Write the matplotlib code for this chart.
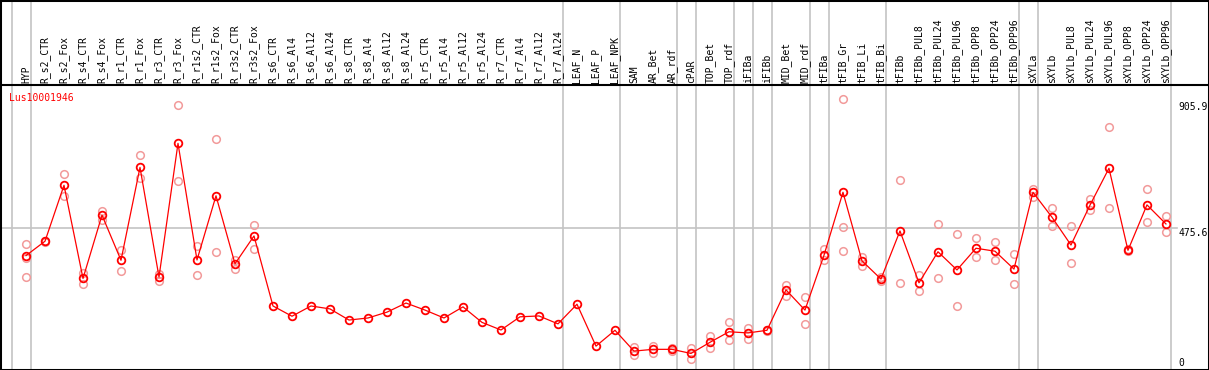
import matplotlib
matplotlib.use("Agg")
import matplotlib.pyplot as plt
from matplotlib.patches import Rectangle

# sample names (x axis, written on top)
labels = [
    "HYP", "R_s2_CTR", "R_s2_Fox", "R_s4_CTR", "R_s4_Fox", "R_r1_CTR", "R_r1_Fox",
    "R_r3_CTR", "R_r3_Fox", "R_r1s2_CTR", "R_r1s2_Fox", "R_r3s2_CTR", "R_r3s2_Fox",
    "R_s6_CTR", "R_s6_Al4", "R_s6_Al12", "R_s6_Al24", "R_s8_CTR", "R_s8_Al4",
    "R_s8_Al12", "R_s8_Al24", "R_r5_CTR", "R_r5_Al4", "R_r5_Al12", "R_r5_Al24",
    "R_r7_CTR", "R_r7_Al4", "R_r7_Al12", "R_r7_Al24", "LEAF_N", "LEAF_P", "LEAF_NPK",
    "SAM", "AR_Bet", "AR_rdf", "cPAR", "TOP_Bet", "TOP_rdf", "iFIBa", "iFIBb",
    "MID_Bet", "MID_rdf", "tFIBa", "tFIB_Gr", "tFIB_Li", "tFIB_Bi", "tFIBb",
    "tFIBb_PUL8", "tFIBb_PUL24", "tFIBb_PUL96", "tFIBb_OPP8", "tFIBb_OPP24",
    "tFIBb_OPP96", "sXYLa", "sXYLb", "sXYLb_PUL8", "sXYLb_PUL24", "sXYLb_PUL96",
    "sXYLb_OPP8", "sXYLb_OPP24", "sXYLb_OPP96",
]

# mean expression per sample
means = [
    382, 431, 622, 304, 520, 366, 683, 309, 765, 367, 586, 354, 449,
    210, 175, 210, 200, 162, 169, 189, 220, 196, 169, 207, 154,
    128, 173, 176, 149, 216, 73, 127,
    56, 62, 62, 48, 86, 122, 118, 127,
    265, 196, 383, 598, 364, 302, 466,
    289, 395, 333, 407, 397, 336,
    598, 513, 418, 554, 680, 400, 555, 490,
]

# individual replicates (empty where only the mean is shown)
reps = [
    [422, 373, 308], [429, 433], [660, 585], [324, 285], [535, 503], [401, 328],
    [724, 647], [319, 296], [896, 636], [415, 315], [779, 393], [367, 337], [485, 406],
    [], [], [], [], [], [], [], [], [], [], [], [],
    [], [], [], [], [], [], [],
    [71, 43], [73, 49], [68, 56], [68, 29], [109, 66], [155, 93], [136, 98], [129, 125],
    [282, 244], [240, 147], [404, 367], [918, 480, 398], [378, 347], [308, 296], [640, 288],
    [316, 261], [489, 304], [455, 209], [441, 376], [427, 366], [387, 284],
    [610, 583], [544, 483], [483, 357], [574, 537], [820, 544], [396, 403], [609, 496], [516, 461],
]

# groups end after these sample indices (vertical separators)
group_ends = [-1, 0, 28, 31, 34, 35, 37, 38, 39, 41, 42, 45, 52, 53, 60]

y_ticks = [0, 475.6, 905.9]
gene = "Lus10001946"

MONO = "DejaVu Sans Mono"
RED = "#ff0000"
PINK = "#f29a9a"
GRID = "#c4c4c4"

W, H = 1209, 370
fig = plt.figure(figsize=(W / 100, H / 100), dpi=100)
# data area: x 1..1207 px, y 85..369 px (from top)
ax = fig.add_axes([1 / W, 1 / H, 1206 / W, 284 / H])

x = list(range(len(labels)))
ax.set_xlim(-1.316, 62.16)
ax.set_ylim(-5.1, 964.2)

# separators run through the label area to the top of the image
for g in group_ends:
    ax.axvline(g + 0.25, ymin=0, ymax=1.31, color=GRID, lw=1.2, clip_on=False, zorder=1)

ax.axhline(475.6, xmin=0, xmax=0.975, color=GRID, lw=1.2, zorder=1)

# replicates
for i, r in enumerate(reps):
    if r:
        ax.plot([i] * len(r), r, linestyle="none", marker="o", ms=5.5, mfc="none",
                mec=PINK, mew=1.1, zorder=2)

# means
ax.plot(x, means, color=RED, lw=0.9, marker="o", ms=5.5, mfc="none", mec=RED,
        mew=1.3, zorder=3)

ax.xaxis.tick_top()
ax.set_xticks(x)
ax.set_xticklabels(labels, rotation=90, fontsize=7, family=MONO, ha="center", va="bottom")
ax.tick_params(axis="x", length=0, pad=1.5)
ax.set_yticks([])

for s in ["left", "right", "bottom"]:
    ax.spines[s].set_visible(False)
ax.spines["top"].set_linewidth(1.5)

ax.text(0.0069, 0.972, gene, transform=ax.transAxes, color=RED, fontsize=7,
        family=MONO, ha="left", va="top")

tx = ax.get_yaxis_transform()
ax.text(0.9765, y_ticks[2], "905.9", transform=tx, fontsize=7, family=MONO, va="top", ha="left")
ax.text(0.9765, y_ticks[1], "475.6", transform=tx, fontsize=7, family=MONO, va="top", ha="left")
ax.text(0.9765, y_ticks[0], "0", transform=tx, fontsize=7, family=MONO, va="bottom", ha="left")

# outer frame
fig.patches.append(Rectangle((0, 0), 1, 1, transform=fig.transFigure, fill=False,
                             ec="black", lw=2.2))

fig.savefig("out.png", dpi=100)
